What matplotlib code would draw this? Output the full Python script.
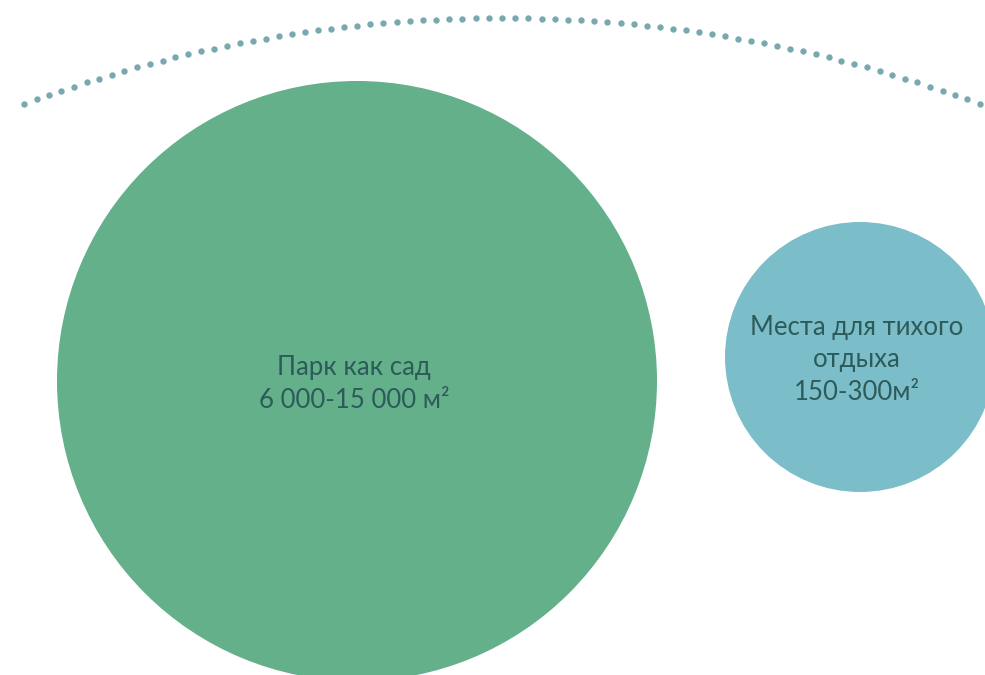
import numpy as np
import matplotlib.pyplot as plt
from matplotlib.patches import Circle

# circle data (pixel space)
labels = ["Парк как сад\n6 000-15 000 м²", "Места для тихого\nотдыха\n150-300м²"]
centers_x = [357, 860]
centers_y = [381, 357]
radii = [300, 135]
colors = ["#63b08a", "#7bbdc8"]

# dotted arc parameters
arc_cx, arc_cy, arc_r = 502, 1389, 1371
arc_from, arc_to = -0.356, 0.356
n_dots = 75

text_color = "#2c5b59"

fig = plt.figure(figsize=(9.85, 6.75), dpi=100)
ax = fig.add_axes([0, 0, 1, 1])
ax.set_xlim(0, 985)
ax.set_ylim(675, 0)
ax.set_aspect("equal")
ax.axis("off")

for x, y, r, c, lab in zip(centers_x, centers_y, radii, colors, labels):
    ax.add_patch(Circle((x, y), r, color=c, lw=0))
    ax.text(x - 3, y + 3, lab, ha="center", va="center", fontsize=18.5,
            family="Lato", weight="normal", color=text_color, linespacing=1.35)

# dotted arc
t = np.linspace(arc_from, arc_to, n_dots)
ax.plot(arc_cx + arc_r * np.sin(t), arc_cy - arc_r * np.cos(t), "o",
        ms=4.6, color="#7aa8b0", mec="none")

plt.savefig("out.png", dpi=100)
